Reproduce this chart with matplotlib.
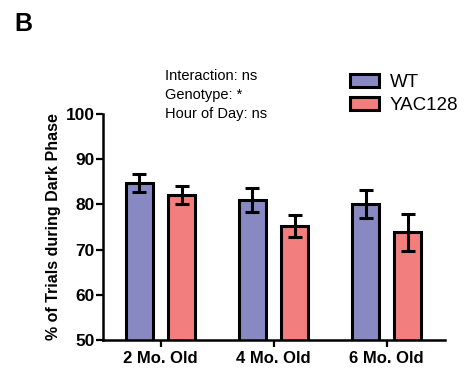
import numpy as np
import matplotlib
matplotlib.use("Agg")
import matplotlib.pyplot as plt
from matplotlib.patches import Patch

plt.rcParams['font.family'] = ['Liberation Sans', 'DejaVu Sans']

# data
groups = ['2 Mo. Old', '4 Mo. Old', '6 Mo. Old']
wt_mean = [84.7, 81.0, 80.0]
wt_sem = [2.0, 2.7, 3.1]
yac_mean = [82.0, 75.2, 73.8]
yac_sem = [2.0, 2.4, 4.1]
y_ticks = [50, 60, 70, 80, 90, 100]

wt_color = '#8889c3'
yac_color = '#f27e7e'

fig = plt.figure(figsize=(4.74, 3.75), dpi=100)
ax = fig.add_axes([0.217, 0.0933, 0.722, 0.603])

x = np.arange(len(groups))
off = 0.187
w = 0.24
err_kw = dict(elinewidth=2.2, capsize=5, capthick=2.2, ecolor='black')
ax.bar(x - off, wt_mean, w, yerr=wt_sem, color=wt_color, edgecolor='black',
       linewidth=2.2, error_kw=err_kw, zorder=2)
ax.bar(x + off, yac_mean, w, yerr=yac_sem, color=yac_color, edgecolor='black',
       linewidth=2.2, error_kw=err_kw, zorder=2)

ax.set_ylim(50, 100)
ax.set_xlim(-0.51, 2.516)
ax.set_yticks(y_ticks)
ax.set_yticklabels([str(t) for t in y_ticks], fontsize=12.5, fontweight='bold')
ax.set_xticks(x)
ax.set_xticklabels(groups, fontsize=12, fontweight='bold')
ax.tick_params(axis='y', width=1.6, length=5, pad=1)
ax.tick_params(axis='x', width=1.6, length=5, pad=3)
for s in ['top', 'right']:
    ax.spines[s].set_visible(False)
for s in ['left', 'bottom']:
    ax.spines[s].set_linewidth(1.8)
ax.set_ylabel('% of Trials during Dark Phase', fontsize=11.5, fontweight='bold', labelpad=3)

# stats text
fig.text(165 / 474, 1 - 69 / 375, 'Interaction: ns\nGenotype: *\nHour of Day: ns',
         fontsize=10.5, va='top', ha='left', linespacing=1.45)

handles = [Patch(facecolor=wt_color, edgecolor='black', linewidth=2.2, label='WT'),
           Patch(facecolor=yac_color, edgecolor='black', linewidth=2.2, label='YAC128')]
fig.legend(handles=handles, loc='upper left', bbox_to_anchor=(342 / 474, 1 - 66 / 375),
           frameon=False, fontsize=13.5, handlelength=1.55, handleheight=0.7,
           handletextpad=0.6, labelspacing=0.35, borderaxespad=0)

fig.text(14 / 474, 1 - 31 / 375, 'B', fontsize=18, fontweight='bold')

fig.savefig('out.png', dpi=100)
